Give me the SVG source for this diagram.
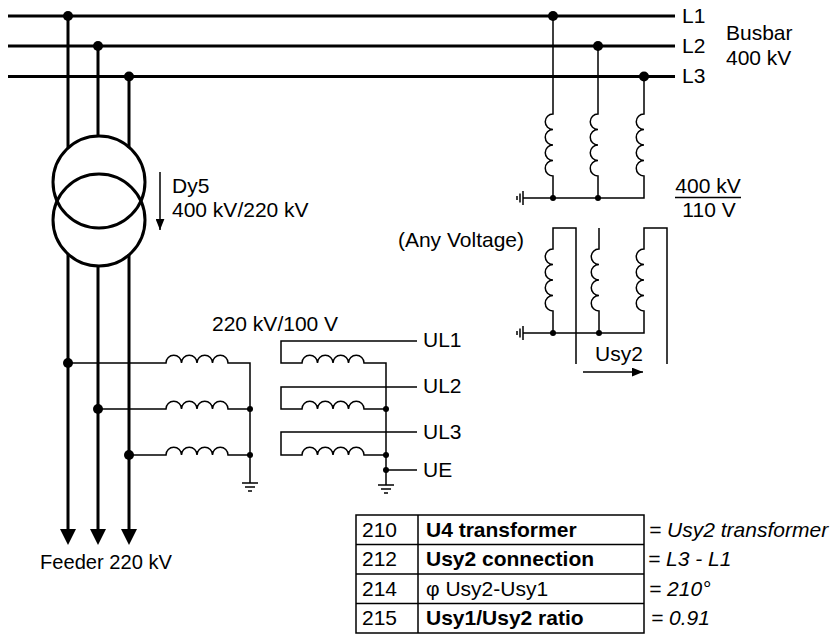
<svg xmlns="http://www.w3.org/2000/svg" width="830" height="638" viewBox="0 0 830 638">
<defs>
<style>
text{font-family:"Liberation Sans",Arial,sans-serif;font-size:21px;fill:#000}
.thick{stroke:#000;stroke-width:3;fill:none}
.thin{stroke:#000;stroke-width:1.5;fill:none}
.dot{fill:#000}
.b{font-weight:bold}
.i{font-style:italic}
</style>
<marker id="ah" viewBox="0 0 10 8" refX="10" refY="4" markerWidth="11" markerHeight="9" markerUnits="userSpaceOnUse" orient="auto">
<path d="M0,0 L10,4 L0,8 Z" fill="#000"/>
</marker>
</defs>
<rect width="830" height="638" fill="#fff"/>

<g id="busbar">
<line class="thick" x1="8" y1="16" x2="675" y2="16"/>
<line class="thick" x1="8" y1="46" x2="675" y2="46"/>
<line class="thick" x1="8" y1="76.5" x2="675" y2="76.5"/>
<text x="682" y="23">L1</text>
<text x="682" y="53">L2</text>
<text x="682" y="83">L3</text>
<text x="726" y="40">Busbar</text>
<text x="726" y="65">400 kV</text>
</g>

<g id="power-transformer">
<circle class="thick" cx="99" cy="182" r="46"/>
<circle class="thick" cx="99" cy="220" r="46"/>
<line class="thin" x1="160" y1="172" x2="160" y2="230" marker-end="url(#ah)"/>
<text x="172" y="193">Dy5</text>
<text x="172" y="217">400 kV/220 kV</text>
</g>

<g id="feeder">
<polygon points="60,529 76,529 68,545" fill="#000"/>
<polygon points="90,529 106,529 98,545" fill="#000"/>
<polygon points="121,529 137,529 129,545" fill="#000"/>
<text x="172" y="569" text-anchor="end" textLength="132" lengthAdjust="spacingAndGlyphs">Feeder 220 kV</text>
</g>

<g id="vt-feeder">
<path class="thin" d="M68,363 H166 a7.75,7.75 0 0 1 15.5,0 a7.75,7.75 0 0 1 15.5,0 a7.75,7.75 0 0 1 15.5,0 a7.75,7.75 0 0 1 15.5,0 H250 V483"/>
<path class="thin" d="M98,409 H166 a7.75,7.75 0 0 1 15.5,0 a7.75,7.75 0 0 1 15.5,0 a7.75,7.75 0 0 1 15.5,0 a7.75,7.75 0 0 1 15.5,0 H250"/>
<path class="thin" d="M129,455 H166 a7.75,7.75 0 0 1 15.5,0 a7.75,7.75 0 0 1 15.5,0 a7.75,7.75 0 0 1 15.5,0 a7.75,7.75 0 0 1 15.5,0 H250"/>
<path class="thin" d="M242,483 H258 M245,487 H255 M248,491 H252"/>
<circle class="dot" cx="250" cy="409" r="3"/>
<circle class="dot" cx="250" cy="455" r="3"/>
<text x="212" y="331">220 kV/100 V</text>
</g>

<g id="vt-secondary">
<path class="thin" d="M417,341 H281 V363 H302 a7.75,7.75 0 0 1 15.5,0 a7.75,7.75 0 0 1 15.5,0 a7.75,7.75 0 0 1 15.5,0 a7.75,7.75 0 0 1 15.5,0 H386 V485"/>
<path class="thin" d="M417,387 H281 V409 H302 a7.75,7.75 0 0 1 15.5,0 a7.75,7.75 0 0 1 15.5,0 a7.75,7.75 0 0 1 15.5,0 a7.75,7.75 0 0 1 15.5,0 H386"/>
<path class="thin" d="M417,432 H281 V455 H302 a7.75,7.75 0 0 1 15.5,0 a7.75,7.75 0 0 1 15.5,0 a7.75,7.75 0 0 1 15.5,0 a7.75,7.75 0 0 1 15.5,0 H386"/>
<path class="thin" d="M386,470 H417"/>
<path class="thin" d="M378,485 H394 M381,489 H391 M384,493 H388"/>
<circle class="dot" cx="386" cy="409" r="3"/>
<circle class="dot" cx="386" cy="455" r="3"/>
<circle class="dot" cx="386" cy="470" r="3"/>
<text x="423" y="347">UL1</text>
<text x="423" y="393">UL2</text>
<text x="423" y="439">UL3</text>
<text x="423" y="477">UE</text>
</g>

<g id="vt-busbar-primary">
<path class="thin" d="M553,16 V114 a7.75,7.75 0 0 0 0,15.5 a7.75,7.75 0 0 0 0,15.5 a7.75,7.75 0 0 0 0,15.5 a7.75,7.75 0 0 0 0,15.5 V198"/>
<path class="thin" d="M598,46 V114 a7.75,7.75 0 0 0 0,15.5 a7.75,7.75 0 0 0 0,15.5 a7.75,7.75 0 0 0 0,15.5 a7.75,7.75 0 0 0 0,15.5 V198"/>
<path class="thin" d="M644,76 V114 a7.75,7.75 0 0 0 0,15.5 a7.75,7.75 0 0 0 0,15.5 a7.75,7.75 0 0 0 0,15.5 a7.75,7.75 0 0 0 0,15.5 V198 H523"/>
<path class="thin" d="M523,191 V205 M520,193.5 V202.5 M517,196 V200"/>
<circle class="dot" cx="553" cy="198" r="3"/>
<circle class="dot" cx="598" cy="198" r="3"/>
<text x="708" y="193" text-anchor="middle">400 kV</text>
<line class="thin" x1="675" y1="197.5" x2="741" y2="197.5"/>
<text x="709" y="217" text-anchor="middle">110 V</text>
</g>

<g id="vt-busbar-secondary">
<path class="thin" d="M576,364 V228 H553 V249 a7.75,7.75 0 0 0 0,15.5 a7.75,7.75 0 0 0 0,15.5 a7.75,7.75 0 0 0 0,15.5 a7.75,7.75 0 0 0 0,15.5 V333"/>
<path class="thin" d="M599,228 V249 a7.75,7.75 0 0 0 0,15.5 a7.75,7.75 0 0 0 0,15.5 a7.75,7.75 0 0 0 0,15.5 a7.75,7.75 0 0 0 0,15.5 V333"/>
<path class="thin" d="M667,364 V228 H644 V249 a7.75,7.75 0 0 0 0,15.5 a7.75,7.75 0 0 0 0,15.5 a7.75,7.75 0 0 0 0,15.5 a7.75,7.75 0 0 0 0,15.5 V333 H523"/>
<path class="thin" d="M523,326 V340 M520,328.5 V337.5 M517,331 V335"/>
<circle class="dot" cx="553" cy="333" r="3"/>
<circle class="dot" cx="599" cy="333" r="3"/>
<text x="524" y="247" text-anchor="end">(Any Voltage)</text>
<text x="595" y="361">Usy2</text>
<line class="thin" x1="583" y1="372" x2="643" y2="372" marker-end="url(#ah)"/>
</g>

<g id="connectors">
<path class="thick" d="M68,16 V148 M98,46 V136 M129,76.5 V148"/>
<path class="thick" d="M68,254 V530 M98,266 V530 M129,254 V530"/>
<circle class="dot" cx="68" cy="16" r="5"/>
<circle class="dot" cx="98" cy="46" r="5"/>
<circle class="dot" cx="129" cy="76.5" r="5"/>
<circle class="dot" cx="553" cy="16" r="5"/>
<circle class="dot" cx="598" cy="46" r="5"/>
<circle class="dot" cx="644" cy="76.5" r="5"/>
<circle class="dot" cx="68" cy="363" r="5"/>
<circle class="dot" cx="98" cy="409" r="5"/>
<circle class="dot" cx="129" cy="455" r="5"/>
</g>

<g id="settings-table">
<rect class="thin" x="356" y="515" width="288" height="118"/>
<path class="thin" d="M356,544.5 H644 M356,574 H644 M356,603.5 H644 M418,515 V633"/>
<text x="362" y="536.5">210</text>
<text x="362" y="566">212</text>
<text x="362" y="595.5">214</text>
<text x="362" y="625">215</text>
<text class="b" x="426" y="536.5">U4 transformer</text>
<text class="b" x="426" y="566">Usy2 connection</text>
<text x="426" y="595.5">φ Usy2-Usy1</text>
<text class="b" x="426" y="625">Usy1/Usy2 ratio</text>
<text class="i" x="649" y="536.5">= Usy2 transformer</text>
<text class="i" x="648" y="566">= L3 - L1</text>
<text class="i" x="649" y="595.5">= 210°</text>
<text class="i" x="651" y="625">= 0.91</text>
</g>
</svg>
